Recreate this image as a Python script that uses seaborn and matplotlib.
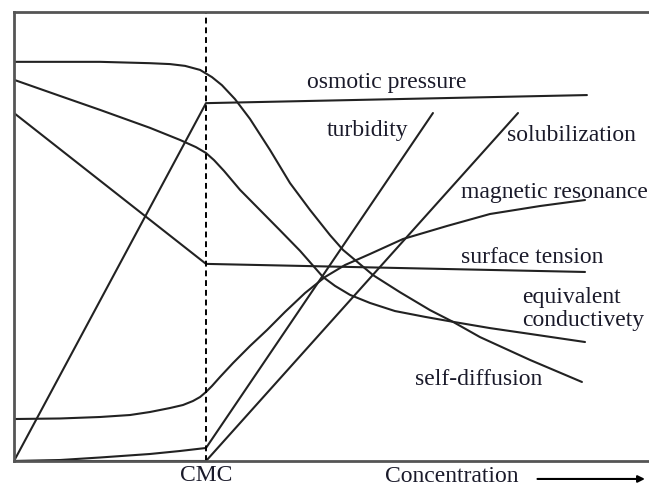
import numpy as np
import seaborn as sns
import matplotlib.pyplot as plt

# concentracao em unidades de CMC (CMC = 1), propriedade em escala 0-100
osm_c = [0, 1.0, 2.984]
osm_v = [0, 79.7, 81.5]

turb_c = [0, 0.240, 0.448, 0.708, 0.865, 1.0, 2.182]
turb_v = [0, 0.22, 0.78, 1.56, 2.23, 2.9, 77.5]

solub_c = [0, 1.0, 2.625]
solub_v = [0, 0, 77.5]

mag_c = [0, 0.240, 0.448, 0.604, 0.708, 0.8125, 0.880, 0.932, 0.969, 1.0, 1.031, 1.073, 1.141,
         1.229, 1.318, 1.411, 1.516, 1.620, 1.724, 1.854, 2.026, 2.255, 2.479, 2.740, 2.974]
mag_v = [9.35, 9.47, 9.80, 10.24, 10.91, 11.80, 12.47, 13.36, 14.25, 15.37, 16.70, 18.71, 21.83,
         25.61, 29.18, 33.18, 37.42, 40.98, 43.65, 46.10, 49.44, 52.34, 55.01, 56.79, 58.13]

surf_c = [0, 1.0, 2.974]
surf_v = [77.5, 43.9, 42.1]

cond_c = [0, 0.240, 0.448, 0.708, 0.865, 0.948, 1.0, 1.042, 1.094, 1.177, 1.281, 1.385, 1.490,
          1.609, 1.672, 1.750, 1.854, 1.984, 2.141, 2.286, 2.479, 2.688, 2.974]
cond_v = [84.9, 81.3, 78.2, 74.2, 71.5, 69.9, 68.6, 67.0, 64.6, 60.4, 55.9, 51.4, 46.8,
          41.0, 39.0, 37.0, 35.2, 33.4, 32.1, 31.0, 29.6, 28.3, 26.5]

diff_c = [0, 0.448, 0.708, 0.8125, 0.891, 0.969, 1.031, 1.083, 1.151, 1.229, 1.333, 1.4375,
          1.542, 1.646, 1.714, 1.870, 2.010, 2.167, 2.286, 2.427, 2.688, 2.958]
diff_v = [88.9, 88.9, 88.6, 88.4, 88.0, 87.1, 85.5, 83.7, 80.6, 76.2, 69.3, 61.9,
          55.9, 50.3, 47.0, 41.4, 37.6, 33.6, 31.0, 27.6, 22.5, 17.6]

cmc = 1.0

# rotulos: texto, x, y
rotulos = [
    ('osmotic pressure', 1.526, 84.3),
    ('turbidity', 1.630, 73.6),
    ('solubilization', 2.568, 72.5),
    ('magnetic resonance', 2.328, 59.8),
    ('surface tension', 2.328, 45.3),
    ('equivalent', 2.646, 36.4),
    ('conductivety', 2.646, 31.2),
    ('self-diffusion', 2.089, 18.1),
]

sns.set_style('white')
plt.rcParams['font.family'] = ['Liberation Serif', 'DejaVu Serif']

fig = plt.figure(figsize=(6.49, 4.87), dpi=100)
ax = fig.add_axes([14/649, 26/487, 635/649, 449/487])

cor = '#222222'
for c, v in [(osm_c, osm_v), (turb_c, turb_v), (solub_c, solub_v), (mag_c, mag_v),
             (surf_c, surf_v), (cond_c, cond_v), (diff_c, diff_v)]:
    sns.lineplot(x=c, y=v, ax=ax, color=cor, linewidth=1.5, estimator=None, sort=False)

ax.axvline(cmc, color='black', linewidth=1.4, linestyle=(0, (3, 2)))

for txt, x, y in rotulos:
    ax.text(x, y, txt, fontsize=17, color='#1a1a2a', ha='left', va='center')

ax.set_xlim(0, 635/192)
ax.set_ylim(0, 100)
ax.set_yticks([])
ax.set_xticks([cmc], ['CMC'])
ax.tick_params(axis='x', length=0, pad=3.2, labelsize=17, labelcolor='#1a1a2a')

for lado in ['left', 'top', 'bottom']:
    ax.spines[lado].set_color('#555555')
    ax.spines[lado].set_linewidth(2)
ax.spines['right'].set_visible(False)

ax.text(0.584, -0.0355, 'Concentration', transform=ax.transAxes, fontsize=17,
        color='#1a1a2a', ha='left', va='center', clip_on=False)
ax.annotate('', xy=(0.998, -0.040), xytext=(0.820, -0.040), xycoords='axes fraction',
            arrowprops=dict(arrowstyle='-|>', color='black', lw=1.5, mutation_scale=10))

plt.savefig('out.png', dpi=100)
